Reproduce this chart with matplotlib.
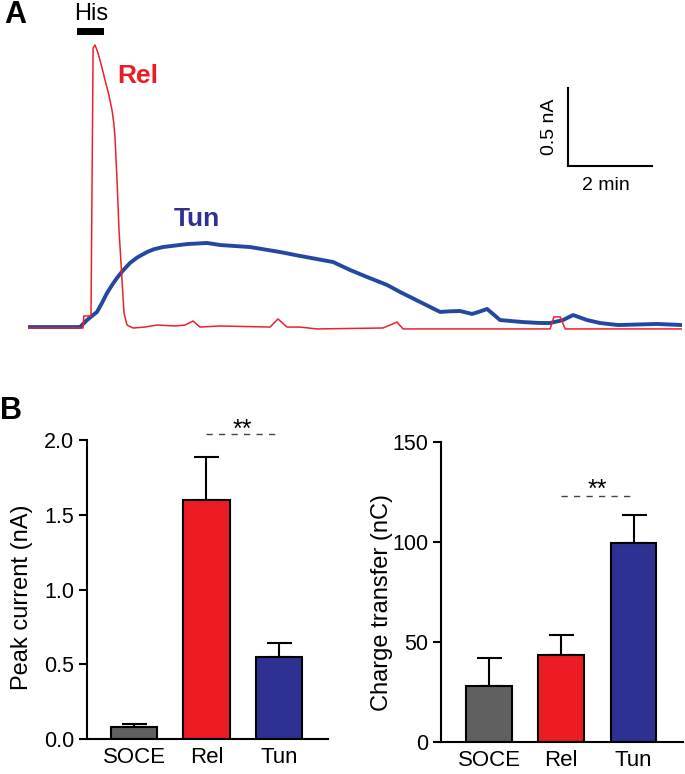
import numpy as np
import matplotlib
matplotlib.use("Agg")
import matplotlib.pyplot as plt

plt.rcParams['font.family'] = ['Liberation Sans', 'DejaVu Sans']

# panel A traces (time in min, current in nA)
rel_t = [0, 1.31, 1.33, 1.50, 1.55, 1.595, 1.667, 1.75, 1.833, 1.92, 2.0, 2.04, 2.071,
         2.119, 2.167, 2.238, 2.286, 2.357, 2.5, 2.786, 3.071, 3.5, 3.738, 3.929, 4.095,
         4.571, 5.762, 5.952, 6.167, 6.476, 6.881, 8.452, 8.786, 8.929, 12.43, 12.52,
         12.67, 12.79, 15.57]
rel_i = [0, 0, 0.077, 0.077, 1.795, 1.814, 1.763, 1.68, 1.590, 1.50, 1.397, 1.32, 1.224,
         0.949, 0.628, 0.308, 0.096, 0.019, 0, 0.006, 0.019, 0.013, 0.019, 0.045, 0.006,
         0.013, 0.006, 0.058, 0.006, 0.006, -0.006, 0, 0.038, -0.006, -0.006, 0.071,
         0.071, -0.006, -0.006]

tun_t = [0, 1.238, 1.405, 1.5, 1.643, 1.76, 1.881, 2.0, 2.119, 2.25, 2.429, 2.6, 2.833,
         3.0, 3.214, 3.786, 4.262, 4.571, 5.286, 6.0, 6.476, 7.262, 7.667, 8.071, 8.548,
         8.857, 9.095, 9.810, 10.05, 10.286, 10.571, 10.75, 10.929, 11.238, 11.786,
         12.190, 12.43, 12.738, 12.976, 13.310, 13.619, 14.048, 14.976, 15.571]
tun_i = [0.006, 0.006, 0.051, 0.072, 0.103, 0.16, 0.224, 0.275, 0.321, 0.365, 0.417,
         0.452, 0.487, 0.505, 0.519, 0.538, 0.545, 0.532, 0.519, 0.487, 0.462, 0.423,
         0.372, 0.327, 0.276, 0.231, 0.199, 0.103, 0.107, 0.109, 0.090, 0.105, 0.122,
         0.051, 0.038, 0.032, 0.032, 0.051, 0.083, 0.051, 0.032, 0.019, 0.026, 0.019]

his_on, his_off = 1.17, 1.81

# panel B
groups = ['SOCE', 'Rel', 'Tun']
peak = [0.08, 1.60, 0.55]
peak_err = [0.02, 0.285, 0.09]
charge = [28, 43.5, 99.5]
charge_err = [14, 10, 14]
bar_colors = ['#606060', '#ed1c24', '#2e3192']

W, H = 685, 774
fig = plt.figure(figsize=(W / 100, H / 100), dpi=100)


def fx(px):
    return px / W


def fy(py):
    return 1 - py / H


# ---- A ----
axA = fig.add_axes([fx(28), fy(340), 654 / W, 315 / H])
axA.plot(tun_t, tun_i, color='#24479f', lw=2.8, solid_joinstyle='round')
axA.plot(rel_t, rel_i, color='#ee2028', lw=1.1)
axA.set_xlim(0, 15.57)
axA.set_ylim(-12 / 156, 303 / 156)
axA.axis('off')
axA.fill_between([his_on, his_off], 1.878, 1.923, color='black', lw=0, clip_on=False)

# scale bar 2 min / 0.5 nA
axA.plot([12.857, 12.857, 14.857], [1.538, 1.0385, 1.0385], color='black', lw=1.5,
         solid_joinstyle='miter')

fig.text(fx(4), fy(15), 'A', fontsize=22, weight='bold', va='center', ha='left')
fig.text(fx(91), fy(14), 'His', fontsize=17, va='center', ha='center')
fig.text(fx(117), fy(76), 'Rel', fontsize=19, weight='bold', color='#ed1c24', va='center')
fig.text(fx(174), fy(219), 'Tun', fontsize=19, weight='bold', color='#2e3192', va='center')
fig.text(fx(549), fy(127), '0.5 nA', fontsize=14, rotation=90, va='center', ha='center')
fig.text(fx(606), fy(186), '2 min', fontsize=14, va='center', ha='center')
fig.text(fx(0), fy(411), 'B', fontsize=22, weight='bold', va='center', ha='left')


def bar_panel(ax, vals, errs, ylim, ticks, ticklabels, ylabel, sig_y, label_xy):
    x = np.arange(len(groups))
    ax.bar(x, vals, width=0.635, color=bar_colors, edgecolor='black', lw=1.5, zorder=2)
    ax.errorbar(x, vals, yerr=[np.zeros(len(vals)), errs], fmt='none', ecolor='black',
                elinewidth=1.5, capsize=9, capthick=1.5, zorder=1)
    ax.set_ylim(*ylim)
    ax.set_yticks(ticks)
    ax.set_yticklabels(ticklabels)
    ax.set_xticks(x)
    ax.set_xticklabels(groups)
    for s in ['top', 'right']:
        ax.spines[s].set_visible(False)
    for s in ['left', 'bottom']:
        ax.spines[s].set_linewidth(1.5)
    ax.tick_params(axis='y', length=6, width=1.5, labelsize=15.5, pad=3)
    ax.tick_params(axis='x', length=0, labelsize=16, pad=6)
    ax.set_ylabel(ylabel, fontsize=17)
    ax.yaxis.set_label_coords(*label_xy)
    ax.plot([1, 2], [sig_y, sig_y], ls=(0, (4.5, 4.5)), color='#444444', lw=1,
            clip_on=False)
    return x


axL = fig.add_axes([fx(87), fy(739), 241 / W, 299 / H])
axL.set_xlim(-0.648, 2.676)
bar_panel(axL, peak, peak_err, (0, 2.0), [0, 0.5, 1.0, 1.5, 2.0],
          ['0.0', '0.5', '1.0', '1.5', '2.0'], 'Peak current (nA)', 2.04,
          (-0.225, 0.475))
axL.text(1.5, 2.02, '**', ha='center', va='baseline', fontsize=18, clip_on=False)

axR = fig.add_axes([fx(441), fy(742), 242 / W, 300 / H])
axR.set_xlim(-0.664, 2.685)
bar_panel(axR, charge, charge_err, (0, 150), [0, 50, 100, 150],
          ['0', '50', '100', '150'], 'Charge transfer (nC)', 123.2,
          (-0.198, 0.466))
axR.text(1.5, 122.8, '**', ha='center', va='baseline', fontsize=18)

fig.savefig('out.png', dpi=100)
